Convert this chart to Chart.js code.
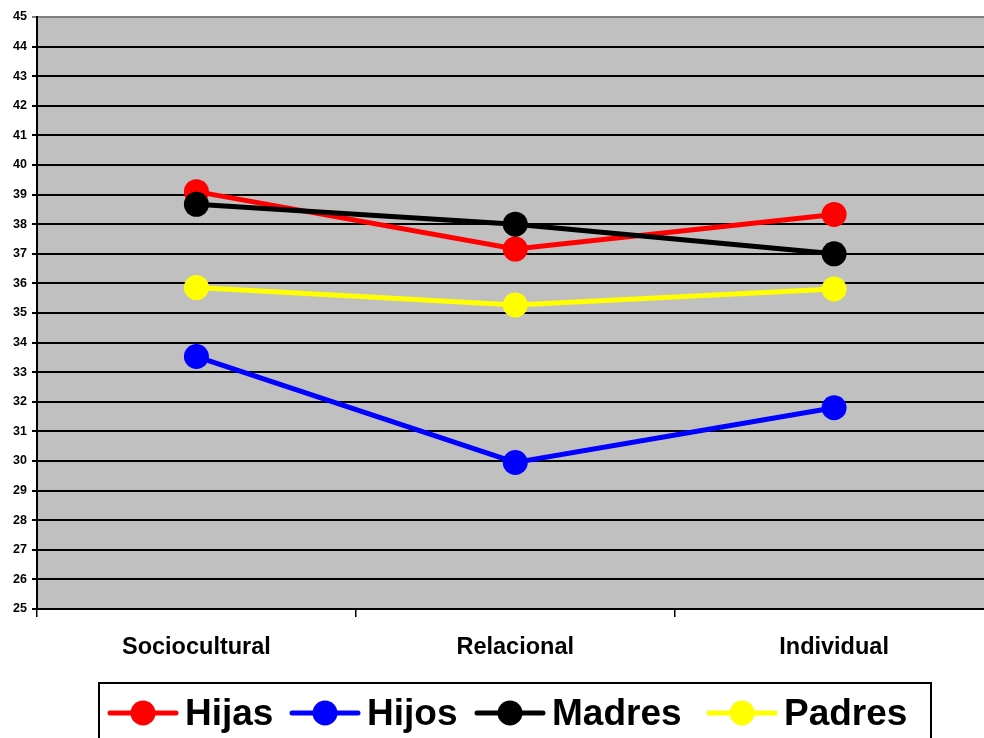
<!DOCTYPE html>
<html>
<head>
<meta charset="utf-8">
<script src="https://cdn.jsdelivr.net/npm/chart.js@4/dist/chart.umd.min.js"></script>
<style>
  html, body { margin: 0; padding: 0; background: #fff; overflow: hidden; width: 984px; height: 738px; }
  #wrap { position: absolute; left: 0; top: 0; width: 1006px; height: 760px; }
</style>
</head>
<body>
<div id="wrap"><canvas id="c" width="1006" height="760"></canvas></div>
<script>
const categories = ['Sociocultural', 'Relacional', 'Individual'];
const seriesNames = ['Hijas', 'Hijos', 'Madres', 'Padres'];
const hijas  = [39.1, 37.16, 38.33];
const hijos  = [33.53, 29.95, 31.8];
const madres = [38.67, 38.0, 37.0];
const padres = [35.86, 35.27, 35.81];
const seriesColors = ['#FF0000', '#0000FF', '#000000', '#FFFF00'];
const yMin = 25, yMax = 45, yStep = 1;

const seriesValues = [hijas, hijos, madres, padres];
const drawOrder = [4, 3, 2, 1];

const datasets = seriesNames.map((name, i) => ({
  label: name,
  data: seriesValues[i],
  borderColor: seriesColors[i],
  backgroundColor: seriesColors[i],
  pointBackgroundColor: seriesColors[i],
  pointBorderWidth: 0,
  pointRadius: 12.5,
  pointHoverRadius: 12.5,
  borderWidth: 5,
  tension: 0,
  order: drawOrder[i]
}));

const plotBg = {
  id: 'plotBg',
  beforeDraw(chart) {
    const { ctx, chartArea: a } = chart;
    ctx.save();
    ctx.fillStyle = '#C0C0C0';
    ctx.fillRect(a.left, a.top, a.right - a.left, a.bottom - a.top);
    ctx.restore();
  }
};

const legendItemX = [108, 290, 475, 707];
const customLegend = {
  id: 'customLegend',
  afterDraw(chart) {
    const ctx = chart.ctx;
    ctx.save();
    ctx.strokeStyle = '#000';
    ctx.lineWidth = 2;
    ctx.strokeRect(99, 683, 832, 70);
    ctx.font = 'bold 37px "Liberation Sans", Arial, sans-serif';
    ctx.textBaseline = 'alphabetic';
    const cy = 713;
    chart.data.datasets.forEach((ds, i) => {
      const x = legendItemX[i];
      ctx.strokeStyle = ds.borderColor;
      ctx.lineWidth = 5;
      ctx.lineCap = 'round';
      ctx.beginPath();
      ctx.moveTo(x + 2, cy);
      ctx.lineTo(x + 68, cy);
      ctx.stroke();
      ctx.fillStyle = ds.borderColor;
      ctx.beginPath();
      ctx.arc(x + 35, cy, 12.5, 0, Math.PI * 2);
      ctx.fill();
      ctx.fillStyle = '#000';
      ctx.fillText(ds.label, x + 77, 725);
    });
    ctx.restore();
  }
};

new Chart(document.getElementById('c'), {
  type: 'line',
  data: { labels: categories, datasets },
  options: {
    responsive: false,
    animation: false,
    events: [],
    layout: { padding: { top: 17, left: 0, right: 0, bottom: 0 } },
    plugins: { legend: { display: false }, tooltip: { enabled: false } },
    scales: {
      x: {
        type: 'category',
        offset: true,
        afterFit(scale) { scale.height = 151; scale.paddingLeft = 0; scale.paddingRight = 0; },
        grid: {
          offset: true,
          drawOnChartArea: false,
          drawTicks: true,
          tickLength: 8,
          color: '#000',
          lineWidth: 1.5
        },
        border: { display: true, color: '#000', width: 2 },
        ticks: {
          color: '#000',
          padding: 16,
          maxRotation: 0,
          font: { family: '"Liberation Sans", Arial, sans-serif', size: 23.5, weight: 'bold' }
        }
      },
      y: {
        min: yMin,
        max: yMax,
        afterFit(scale) { scale.width = 37; },
        grid: {
          color: (c) => (c.tick && c.tick.value === yMax ? '#808080' : '#000'),
          lineWidth: 2,
          drawTicks: true,
          tickLength: 5
        },
        border: { display: true, color: '#000', width: 2 },
        ticks: {
          stepSize: yStep,
          color: '#000',
          padding: 5,
          font: { family: '"Liberation Sans", Arial, sans-serif', size: 12.5, weight: 'bold' }
        }
      }
    }
  },
  plugins: [plotBg, customLegend]
});
</script>
</body>
</html>
